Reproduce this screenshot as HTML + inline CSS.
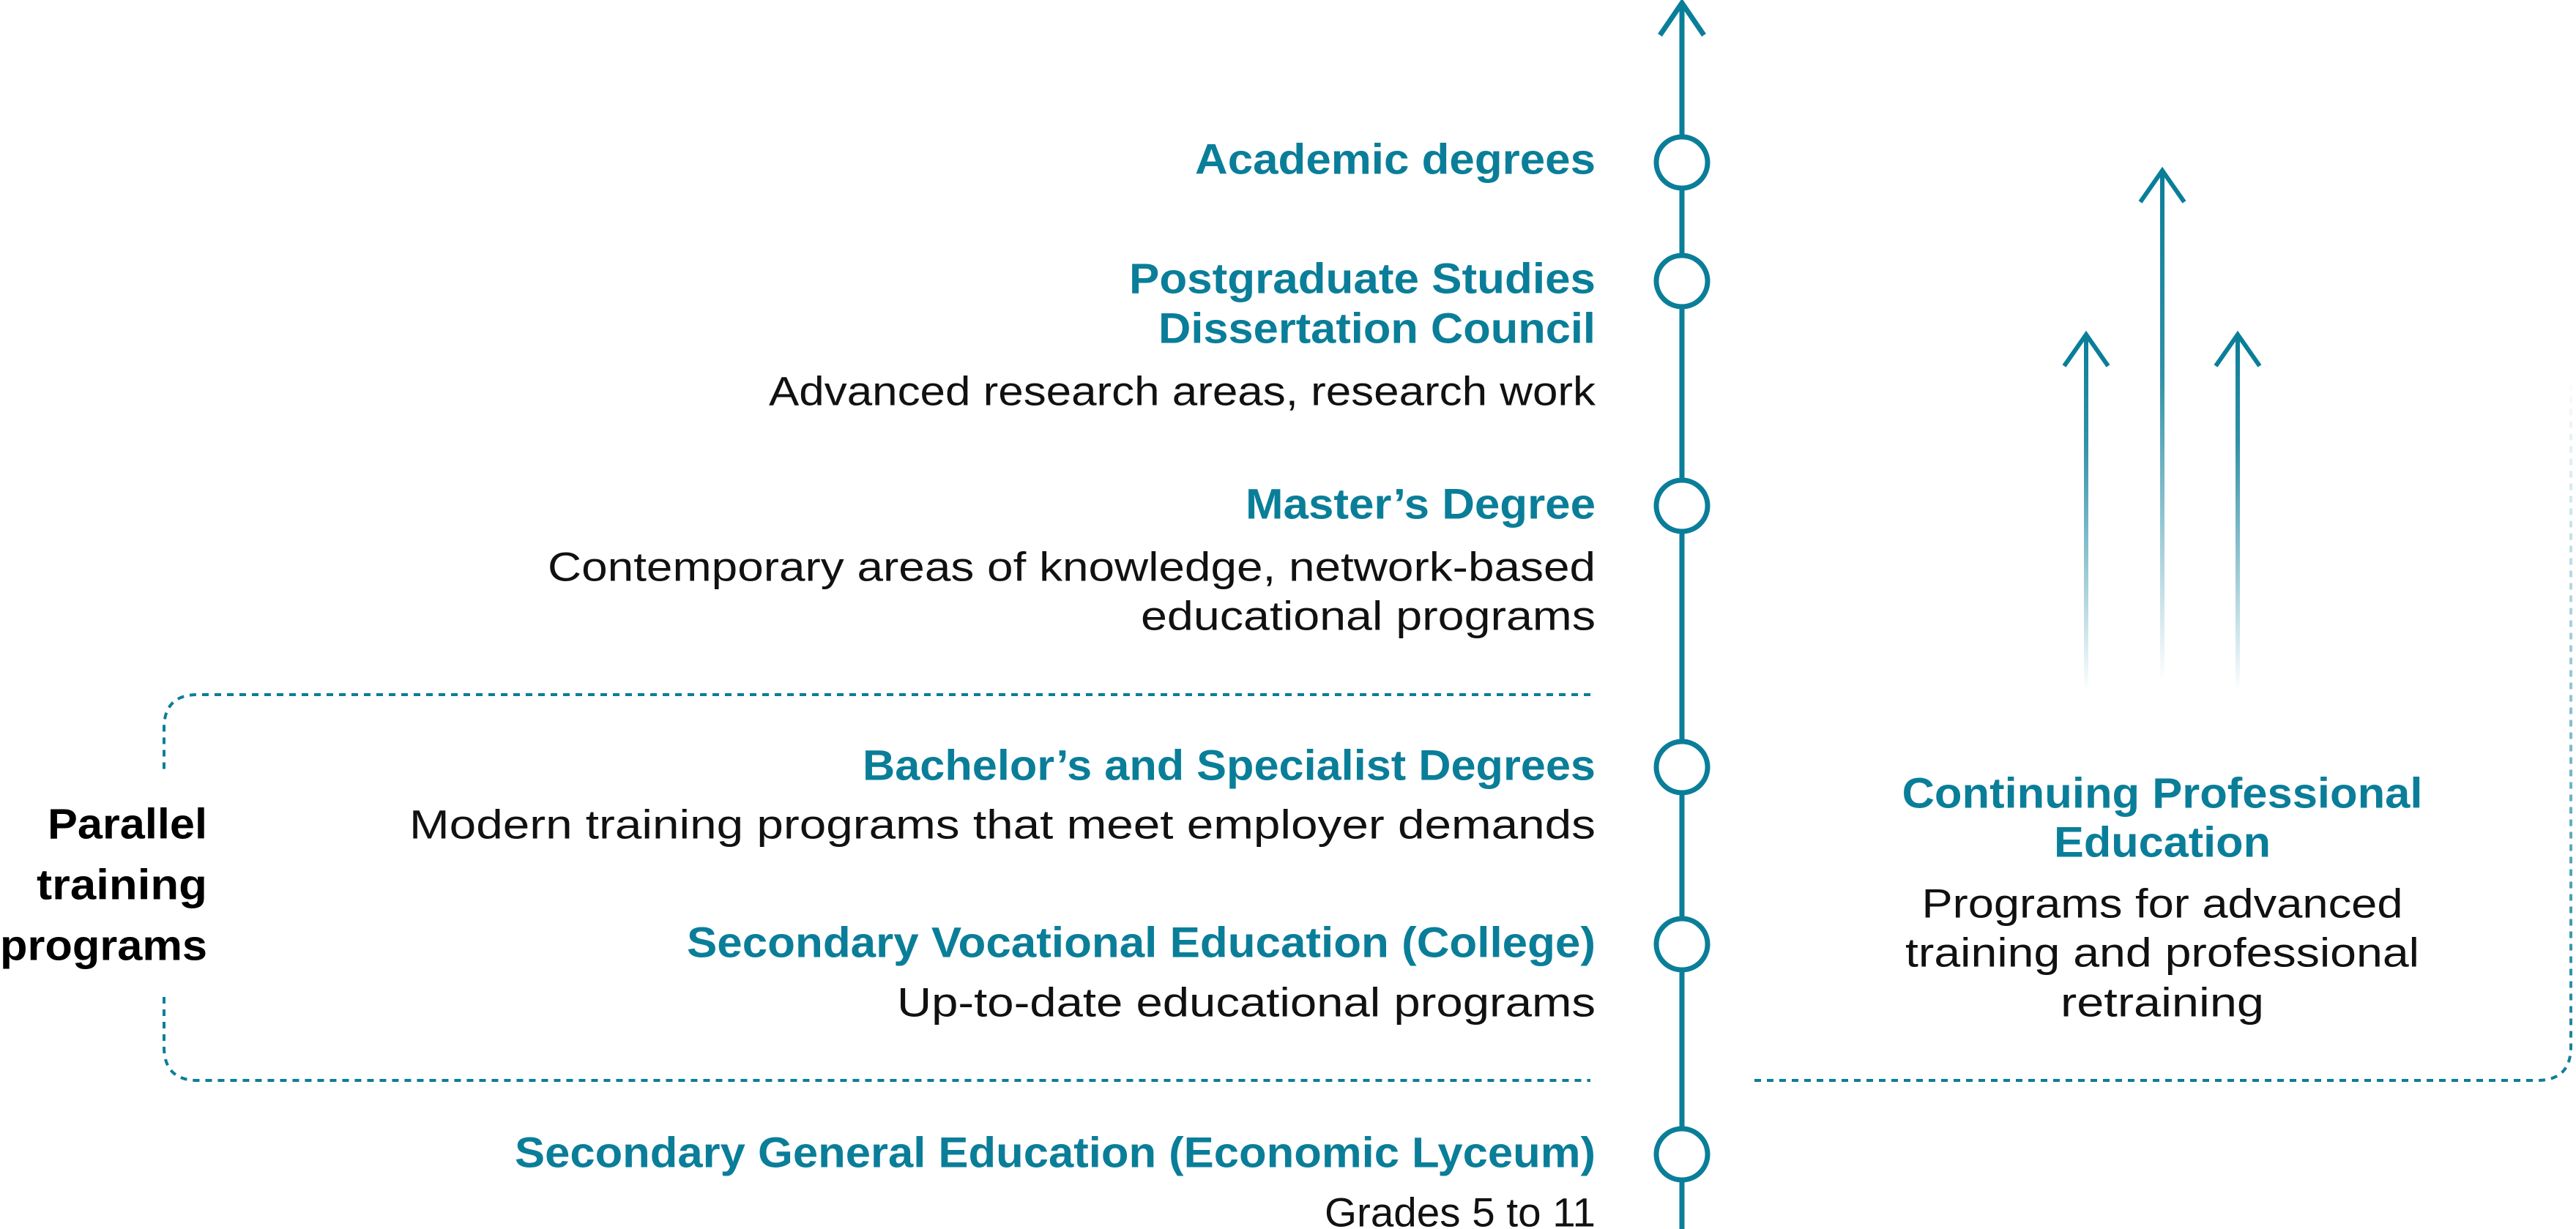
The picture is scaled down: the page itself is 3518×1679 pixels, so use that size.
<!DOCTYPE html>
<html><head><meta charset="utf-8"><style>html,body{margin:0;padding:0;background:#fff}svg{display:block}</style></head><body>
<svg width="3518" height="1679" viewBox="0 0 3518 1679" xmlns="http://www.w3.org/2000/svg" font-family="Liberation Sans, sans-serif">
<defs>
<linearGradient id="fadeA" gradientUnits="userSpaceOnUse" x1="0" y1="458" x2="0" y2="945"><stop offset="0" stop-color="#0a7e99"/><stop offset="0.3" stop-color="#0a7e99" stop-opacity="0.85"/><stop offset="1" stop-color="#0a7e99" stop-opacity="0"/></linearGradient>
<linearGradient id="fadeB" gradientUnits="userSpaceOnUse" x1="0" y1="234" x2="0" y2="930"><stop offset="0" stop-color="#0a7e99"/><stop offset="0.4" stop-color="#0a7e99" stop-opacity="0.85"/><stop offset="1" stop-color="#0a7e99" stop-opacity="0"/></linearGradient>
<linearGradient id="fadeUp" gradientUnits="userSpaceOnUse" x1="0" y1="1476" x2="0" y2="500"><stop offset="0" stop-color="#0a7e99"/><stop offset="1" stop-color="#0a7e99" stop-opacity="0"/></linearGradient>
</defs>
<g stroke="#0a7e99" stroke-width="7" fill="none">
<line x1="2297" y1="4" x2="2297" y2="1679"/>
<polyline points="2267,48 2297,4 2327,48"/>
</g>
<g stroke="#0a7e99" stroke-width="7" fill="#fff">
<circle cx="2297" cy="222" r="35"/><circle cx="2297" cy="384" r="35"/><circle cx="2297" cy="691" r="35"/>
<circle cx="2297" cy="1048" r="35"/><circle cx="2297" cy="1290" r="35"/><circle cx="2297" cy="1577" r="35"/>
</g>
<g stroke-width="6" fill="none">
<line x1="2849" y1="458" x2="2849" y2="945" stroke="url(#fadeA)"/>
<line x1="2953" y1="234" x2="2953" y2="930" stroke="url(#fadeB)"/>
<line x1="3056" y1="458" x2="3056" y2="945" stroke="url(#fadeA)"/>
<g stroke="#0a7e99"><polyline points="2819,500 2849,457 2879,500"/><polyline points="2923,276 2953,233 2983,276"/><polyline points="3026,500 3056,457 3086,500"/></g>
</g>
<g stroke="#0a7e99" stroke-width="4" fill="none" stroke-dasharray="9 8">
<path d="M2172,949 H270 Q224,949 224,995 V1058"/>
<path d="M224,1362 V1430 Q224,1476 270,1476 H2172"/>
<path d="M2396,1476 H3465 Q3511,1476 3511,1430 V500" stroke="url(#fadeUp)"/>
</g>
<g fill="#0a7e99" font-weight="bold" font-size="58" text-anchor="end" dominant-baseline="central">
<text x="2179" y="218" textLength="547" lengthAdjust="spacingAndGlyphs">Academic degrees</text>
<text x="2179" y="381" textLength="637" lengthAdjust="spacingAndGlyphs">Postgraduate Studies</text>
<text x="2179" y="449" textLength="597" lengthAdjust="spacingAndGlyphs">Dissertation Council</text>
<text x="2179" y="689" textLength="478" lengthAdjust="spacingAndGlyphs">Master’s Degree</text>
<text x="2179" y="1046" textLength="1001" lengthAdjust="spacingAndGlyphs">Bachelor’s and Specialist Degrees</text>
<text x="2179" y="1288" textLength="1241" lengthAdjust="spacingAndGlyphs">Secondary Vocational Education (College)</text>
<text x="2179" y="1575" textLength="1476" lengthAdjust="spacingAndGlyphs">Secondary General Education (Economic Lyceum)</text>
</g>
<g fill="#111" font-size="56" text-anchor="end" dominant-baseline="central">
<text x="2179" y="534" textLength="1129" lengthAdjust="spacingAndGlyphs">Advanced research areas, research work</text>
<text x="2179" y="774" textLength="1431" lengthAdjust="spacingAndGlyphs">Contemporary areas of knowledge, network-based</text>
<text x="2179" y="841" textLength="621" lengthAdjust="spacingAndGlyphs">educational programs</text>
<text x="2179" y="1126" textLength="1620" lengthAdjust="spacingAndGlyphs">Modern training programs that meet employer demands</text>
<text x="2179" y="1369" textLength="954" lengthAdjust="spacingAndGlyphs">Up-to-date educational programs</text>
<text x="2179" y="1656" textLength="370" lengthAdjust="spacingAndGlyphs">Grades 5 to 11</text>
</g>
<g fill="#000" font-weight="bold" font-size="58" text-anchor="end" dominant-baseline="central">
<text x="283" y="1126" textLength="218" lengthAdjust="spacingAndGlyphs">Parallel</text>
<text x="283" y="1209" textLength="233" lengthAdjust="spacingAndGlyphs">training</text>
<text x="283" y="1292" textLength="283" lengthAdjust="spacingAndGlyphs">programs</text>
</g>
<g fill="#0a7e99" font-weight="bold" font-size="58" text-anchor="middle" dominant-baseline="central">
<text x="2953" y="1084" textLength="711" lengthAdjust="spacingAndGlyphs">Continuing Professional</text>
<text x="2953" y="1151" textLength="296" lengthAdjust="spacingAndGlyphs">Education</text>
</g>
<g fill="#111" font-size="56" text-anchor="middle" dominant-baseline="central">
<text x="2953" y="1234" textLength="657" lengthAdjust="spacingAndGlyphs">Programs for advanced</text>
<text x="2953" y="1301" textLength="702" lengthAdjust="spacingAndGlyphs">training and professional</text>
<text x="2953" y="1369" textLength="278" lengthAdjust="spacingAndGlyphs">retraining</text>
</g>
</svg>
</body></html>
